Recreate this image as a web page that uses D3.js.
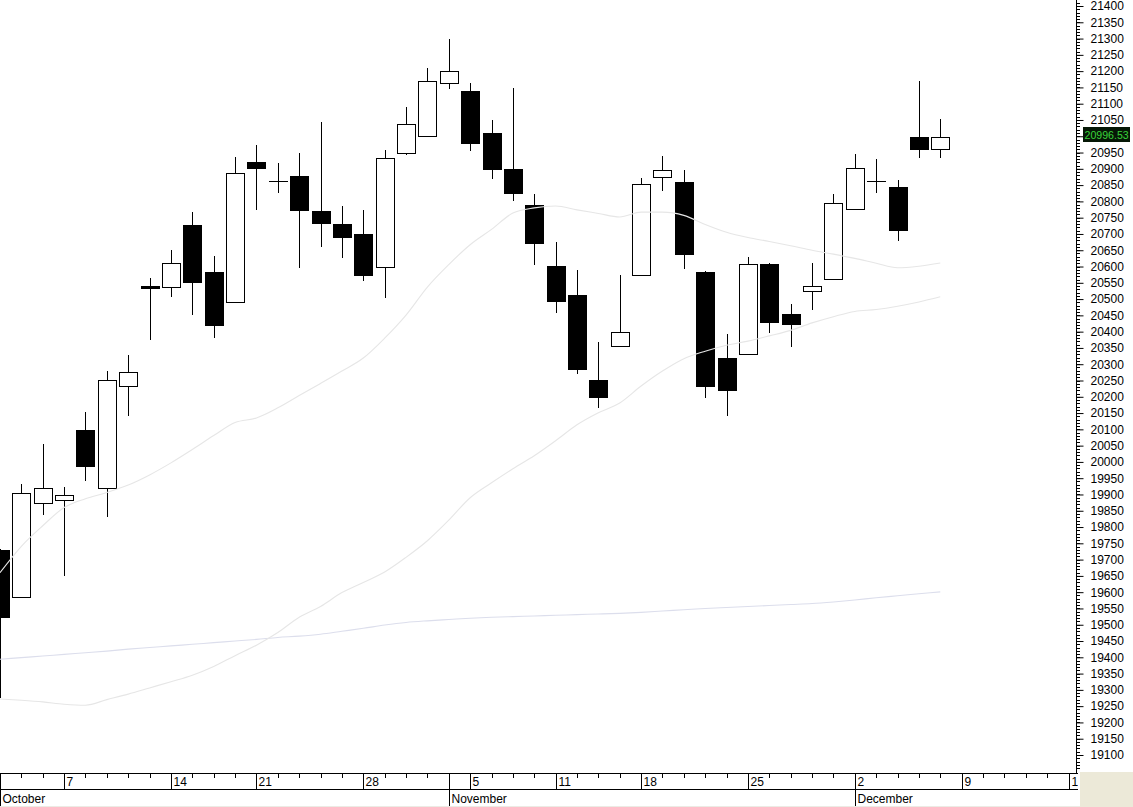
<!DOCTYPE html>
<html><head><meta charset="utf-8">
<script src="https://cdn.jsdelivr.net/npm/d3@7"></script>
<style>
html,body{margin:0;padding:0;background:#fff;overflow:hidden}
text{font-family:"Liberation Sans",Arial,sans-serif;}
</style>
</head><body>
<svg id="c" width="1133" height="807"></svg>
<script>
// ---- data (trading-day index 0..44) ----
const opens  = [19730,19585,19874,19883,20098,19920,20233,20541,20537,20728,20583,20491,20921,20864,20878,20771,20731,20700,20599,20949,21002,21164,21139,21009,20899,20789,20602,20513,20252,20356,20573,20875,20860,20583,20318,20330,20608,20454,20524,20561,20776,20863,20844,20998,20960];
const highs  = [19732,19932,20055,19923,20153,20279,20328,20565,20651,20767,20632,20936,20973,20918,20949,21044,20786,20774,20958,21090,21210,21299,21163,21050,21147,20823,20676,20589,20368,20574,20872,20939,20896,20585,20393,20628,20610,20485,20611,20823,20946,20930,20866,21170,21053];
const lows   = [19275,19585,19837,19650,19941,19831,20141,20374,20506,20451,20381,20488,20774,20826,20596,20660,20626,20556,20503,20943,20998,21145,20956,20868,20802,20605,20458,20269,20167,20353,20570,20833,20592,20195,20142,20328,20397,20354,20467,20558,20773,20825,20679,20934,20932];
const closes = [19524,19904,19920,19897,19987,20252,20276,20533,20611,20553,20420,20887,20903,20864,20774,20734,20691,20574,20933,21038,21170,21200,20980,20900,20827,20671,20495,20286,20200,20400,20853,20896,20639,20234,20222,20607,20431,20424,20539,20794,20902,20863,20713,20961,20996.53];
const maShort = [19660,19741,19804,19860,19887,19906,19929,19960,19997,20038,20081,20121,20135,20166,20204,20241,20279,20319,20380,20451,20537,20606,20667,20714,20764,20780,20786,20774,20763,20752,20767,20767,20757,20729,20705,20689,20677,20664,20650,20638,20625,20610,20596,20601,20611];
const maMid   = [19272,19268,19263,19256,19253,19270,19287,19306,19325,19345,19372,19405,19437,19476,19523,19556,19599,19630,19662,19707,19758,19821,19890,19936,19979,20019,20065,20114,20151,20181,20233,20279,20317,20340,20358,20371,20387,20404,20427,20446,20462,20468,20478,20491,20507];
const maLong  = [19394,19399,19404,19409,19414,19419,19425,19430,19435,19440,19445,19450,19455,19461,19465,19471,19480,19489,19499,19507,19512,19516,19520,19523,19525,19527,19529,19531,19533,19535,19538,19542,19546,19550,19553,19556,19559,19562,19565,19570,19576,19583,19589,19595,19601];
const lastPrice = 20996.53;
const yTickLabels = [21400,21350,21300,21250,21200,21150,21100,21050,21000,20950,20900,20850,20800,20750,20700,20650,20600,20550,20500,20450,20400,20350,20300,20250,20200,20150,20100,20050,20000,19950,19900,19850,19800,19750,19700,19650,19600,19550,19500,19450,19400,19350,19300,19250,19200,19150,19100];
const weekIdx  = [3,8,12,17,22,26,30,35,40,45,50];
const weekText = ["7","14","21","28","5","11","18","25","2","9","16"];
const monthIdx  = [0,21,40];
const monthText = ["October","November","December"];
const lastDayIdx = 50;

// ---- layout ----
const W=1133,H=807;
const axisX=1076, dateTop=773, dateMid=789, dateBot=806;
const x=d3.scaleLinear().domain([0,lastDayIdx]).range([0,1068.5]);
const y=d3.scaleLinear().domain([19100,21400]).range([755,6]);
const svg=d3.select('#c');
svg.append('rect').attr('width',W).attr('height',H).attr('fill','#fff');
const defs=svg.append('defs');
defs.append('clipPath').attr('id','cp').append('rect').attr('x',0).attr('y',0).attr('width',axisX).attr('height',dateTop);
defs.append('clipPath').attr('id','cpd').append('rect').attr('x',0).attr('y',dateTop).attr('width',axisX+2).attr('height',H-dateTop);

const data=opens.map((o,i)=>({i,o,h:highs[i],l:lows[i],c:closes[i]}));
const plot=svg.append('g').attr('clip-path','url(#cp)');
const cx=d=>Math.round(x(d.i));
const bTop=d=>Math.round(y(Math.max(d.o,d.c)));
const bBot=d=>Math.round(y(Math.min(d.o,d.c)));
plot.selectAll('line.wick').data(data).join('line').attr('class','wick')
  .attr('x1',d=>cx(d)+0.5).attr('x2',d=>cx(d)+0.5)
  .attr('y1',d=>Math.round(y(d.h))).attr('y2',d=>Math.round(y(d.l)))
  .attr('stroke','#000').attr('stroke-width',1);
const bodies=data.filter(d=>bBot(d)>bTop(d));
const dojis=data.filter(d=>bBot(d)<=bTop(d));
plot.selectAll('rect.body').data(bodies).join('rect').attr('class','body')
  .attr('x',d=>cx(d)-9+0.5).attr('width',18)
  .attr('y',d=>bTop(d)+0.5)
  .attr('height',d=>bBot(d)-bTop(d))
  .attr('fill',d=>d.c>=d.o?'#fff':'#000').attr('stroke','#000').attr('stroke-width',1);
plot.selectAll('line.doji').data(dojis).join('line').attr('class','doji')
  .attr('x1',d=>cx(d)-9).attr('x2',d=>cx(d)+10)
  .attr('y1',d=>bTop(d)+0.5).attr('y2',d=>bTop(d)+0.5)
  .attr('stroke','#000').attr('stroke-width',1);

const line=d3.line().x((d,i)=>x(i)).y(d=>y(d)).curve(d3.curveMonotoneX);
plot.append('path').datum(maLong).attr('d',line).attr('fill','none').attr('stroke','#dcdeec').attr('stroke-width',1.1);
plot.append('path').datum(maMid).attr('d',line).attr('fill','none').attr('stroke','#e6e6e6').attr('stroke-width',1.1);
plot.append('path').datum(maShort).attr('d',line).attr('fill','none').attr('stroke','#e6e6e6').attr('stroke-width',1.1);

// ---- right axis ----
const py=y(lastPrice);
const boxTop=Math.round(py)-10, boxH=15;
const ax=svg.append('g').attr('transform',`translate(${axisX},0)`);
ax.append('line').attr('x1',0.5).attr('x2',0.5).attr('y1',0).attr('y2',dateTop).attr('stroke','#000');
const minor=d3.range(19040,21430,10).filter(v=>y(v)>=0&&y(v)<=dateTop-2);
ax.selectAll('line.minor').data(minor).join('line').attr('class','minor')
  .attr('x1',0).attr('x2',4).attr('y1',v=>Math.round(y(v))+0.5).attr('y2',v=>Math.round(y(v))+0.5)
  .attr('stroke','#000');
const major=d3.axisRight(y).tickValues(yTickLabels).tickSize(7).tickPadding(7)
  .tickFormat(v=>(y(v)>boxTop-4&&y(v)<boxTop+boxH+4)?'':d3.format('d')(v));
const mg=ax.append('g').attr('transform','translate(0.5,0)').call(major);
mg.select('.domain').remove();
mg.selectAll('.tick line').attr('stroke','#000');
mg.selectAll('.tick text').attr('font-size','12px').attr('font-family','"Liberation Sans",Arial,sans-serif').attr('fill','#000');

// price label (covers the tick label it sits on, as in the original)
svg.append('rect').attr('x',1083).attr('y',boxTop).attr('width',47).attr('height',boxH).attr('fill','#061806');
svg.append('text').attr('x',1084.5).attr('y',boxTop+11.5).attr('font-size','10.6px').attr('fill','#3ad23a').text(lastPrice.toFixed(2));

// ---- bottom date axis ----
svg.append('rect').attr('x',1080).attr('y',dateTop-1).attr('width',W-1080).attr('height',H-dateTop+1).attr('fill','#ece9d8');
const bx=svg.append('g').attr('clip-path','url(#cpd)');
bx.append('line').attr('x1',0).attr('x2',axisX+2).attr('y1',dateTop+0.5).attr('y2',dateTop+0.5).attr('stroke','#000');
bx.append('line').attr('x1',0).attr('x2',axisX+2).attr('y1',dateMid+0.5).attr('y2',dateMid+0.5).attr('stroke','#000');
svg.append('line').attr('x1',0).attr('x2',1080).attr('y1',dateBot+0.5).attr('y2',dateBot+0.5).attr('stroke','#ecebe4');
const divs=new Set([...weekIdx,...monthIdx]);
const dayTicks=d3.range(0,lastDayIdx+1).filter(i=>!divs.has(i));
bx.selectAll('line.dt').data(dayTicks).join('line').attr('class','dt')
  .attr('x1',i=>Math.round(x(i))+0.5).attr('x2',i=>Math.round(x(i))+0.5)
  .attr('y1',dateTop).attr('y2',dateTop+5).attr('stroke','#000');
bx.selectAll('line.wk').data(weekIdx).join('line').attr('class','wk')
  .attr('x1',i=>Math.round(x(i))+0.5).attr('x2',i=>Math.round(x(i))+0.5)
  .attr('y1',dateTop).attr('y2',dateMid).attr('stroke','#000');
bx.selectAll('text.wk').data(weekIdx).join('text').attr('class','wk')
  .attr('x',i=>Math.round(x(i))+2.5).attr('y',dateTop+13).attr('font-size','12px').attr('fill','#000')
  .text((d,k)=>weekText[k]);
bx.selectAll('line.mo').data(monthIdx).join('line').attr('class','mo')
  .attr('x1',i=>Math.round(x(i))+0.5).attr('x2',i=>Math.round(x(i))+0.5)
  .attr('y1',dateTop).attr('y2',dateBot).attr('stroke','#000');
bx.selectAll('text.mo').data(monthIdx).join('text').attr('class','mo')
  .attr('x',i=>Math.round(x(i))+2.5).attr('y',dateMid+13.5).attr('font-size','12px').attr('fill','#000')
  .text((d,k)=>monthText[k]);
</script>
</body></html>
